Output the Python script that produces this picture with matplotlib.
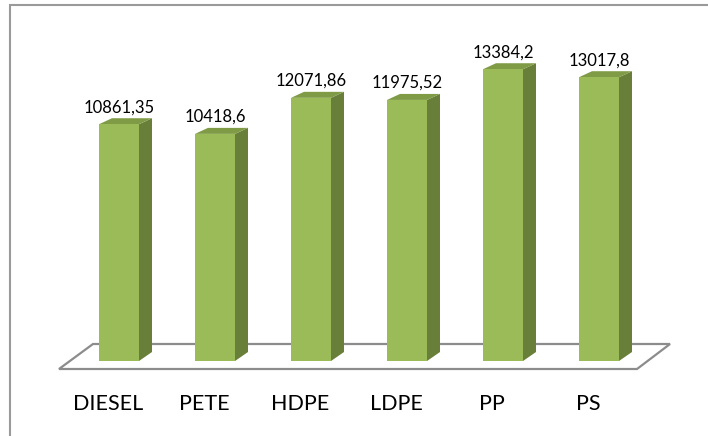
import matplotlib
matplotlib.use("Agg")
import matplotlib.pyplot as plt
from matplotlib.patches import Polygon, Rectangle

categories = ["DIESEL", "PETE", "HDPE", "LDPE", "PP", "PS"]
values = [10861.35, 10418.6, 12071.86, 11975.52, 13384.2, 13017.8]
value_labels = ["10861,35", "10418,6", "12071,86", "11975,52", "13384,2", "13017,8"]

W, H = 708, 436
fig = plt.figure(figsize=(W / 100, H / 100), dpi=100)
ax = fig.add_axes([0, 0, 1, 1])

# layout in pixels
x0_px, step_px = 119.0, 96.0     # centre of first bar, spacing
base_px = 361.0                   # pixel row of value 0 (from top)
k = 0.0218                        # pixels per value unit
PX = 1.0 / step_px                # one pixel in x data units
PY = 1.0 / k                      # one pixel in y data units

ax.set_xlim(-x0_px / step_px, (W - x0_px) / step_px)
ax.set_ylim(-(H - base_px) / k, base_px / k)
ax.axis("off")

front_c = "#9BBB59"
side_c = "#677F38"
top_c = "#7F9B46"

n = len(categories)
xs = list(range(n))
w = 40 * PX
dx = 13 * PX
dyb = 9 * PY
dyt = 6 * PY

# floor
fl = [(-0.5 - 0.125, -8 * PY), (n - 1 + 0.5 - 0.104, -8 * PY),
      (n - 1 + 0.5 - 0.104 + 33 * PX, 17 * PY), (-0.5 - 0.125 + 34 * PX, 17 * PY)]
ax.add_patch(Polygon(fl, closed=True, facecolor="white", edgecolor="#8C8C8C",
                     lw=1.6, zorder=1))

ax.bar(xs, values, width=w, color=front_c, zorder=3, linewidth=0)
for x, v, lab in zip(xs, values, value_labels):
    xr = x + w / 2
    xl = x - w / 2
    ax.add_patch(Polygon([(xr, 0), (xr + dx, dyb), (xr + dx, v + dyt), (xr, v)],
                         closed=True, facecolor=side_c, edgecolor="none", zorder=2))
    ax.add_patch(Polygon([(xl, v), (xl + dx, v + dyt), (xr + dx, v + dyt), (xr, v)],
                         closed=True, facecolor=top_c, edgecolor="none", zorder=2))
    ax.text(x, v + 12 * PY, lab, ha="center", va="baseline", fontsize=12,
            family="Lato", color="black", zorder=4)

for x, c in zip(xs, categories):
    ax.text(x - 11 * PX, -(404 - base_px) * PY, c, ha="center", va="center",
            fontsize=15.5, family="Lato", color="black")

fig.patches.append(Rectangle((10 / W, -0.1), 1.0, (H - 5) / H + 0.1, fill=False,
                             edgecolor="#9A9A9A", lw=1.5, transform=fig.transFigure,
                             figure=fig))

fig.savefig("out.png", dpi=100, facecolor="white")
